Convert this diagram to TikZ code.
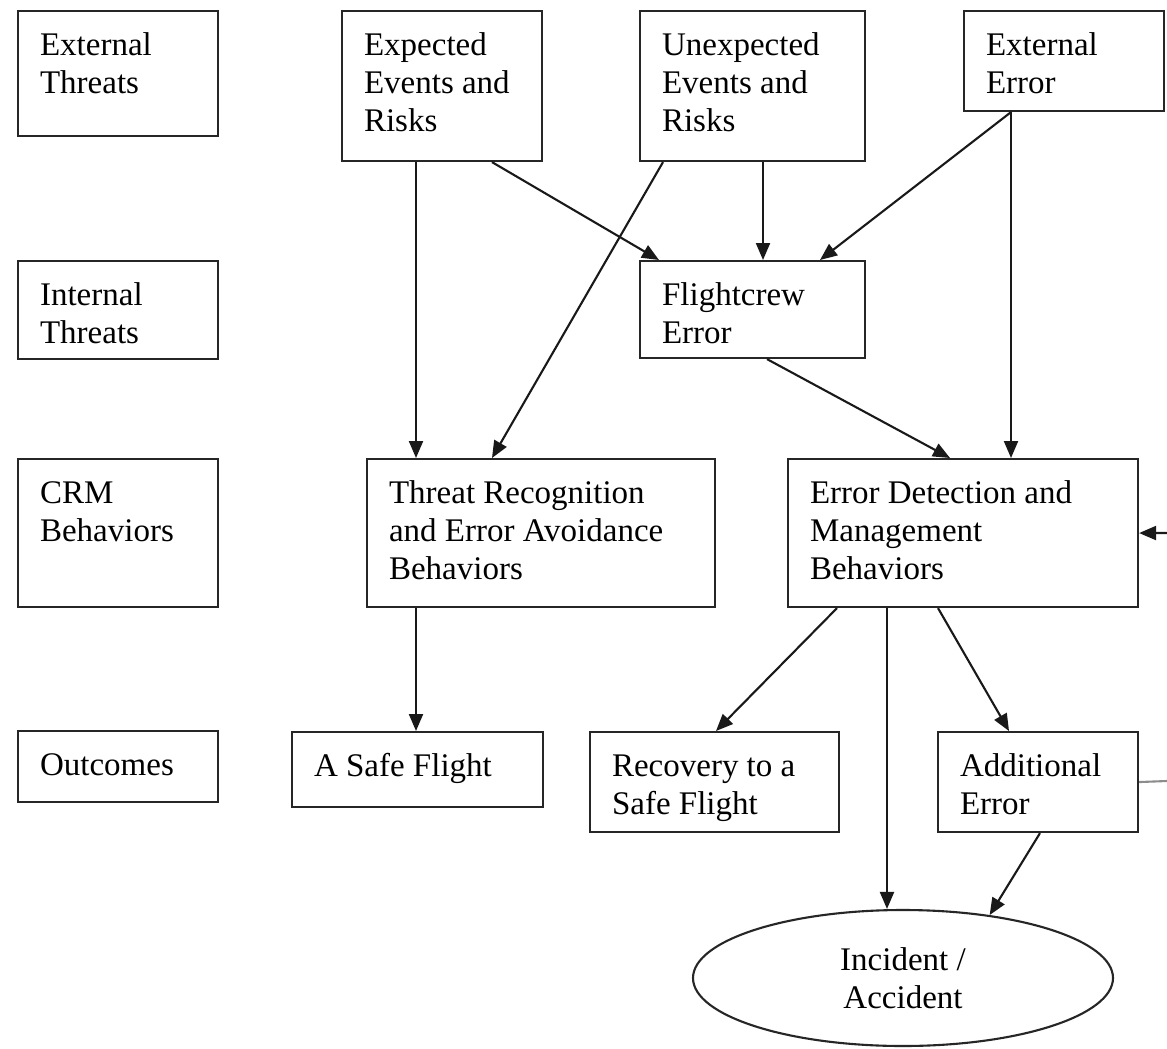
\documentclass[tikz,border=0pt]{standalone}
\usepackage{fontspec}
\setmainfont{Liberation Serif}
\usetikzlibrary{arrows.meta,shapes.geometric}
\newcommand\boxtxt[3]{\parbox[t][#2pt][t]{#1pt}{\vspace*{18pt}\raggedright\leftskip=22pt\relax\strut #3}}
\tikzset{
  boxnode/.style={draw=black!85, line width=2.1pt, anchor=north west, inner sep=0pt, rectangle},
  arr/.style={draw=black!90, line width=2.1pt, -{Triangle[length=17pt,width=14pt]}},
  plainline/.style={draw=black!45, line width=2.1pt}
}
\begin{document}
\begin{tikzpicture}[x=1pt,y=-1pt,font=\fontsize{33}{38}\selectfont]
\useasboundingbox[fill=white] (0,0) rectangle (1167,1049);

% left column labels
\node[boxnode] (et)  at (17,10)  {\boxtxt{200}{125}{External\\Threats}};
\node[boxnode] (it)  at (17,260) {\boxtxt{200}{98}{Internal\\Threats}};
\node[boxnode] (crm) at (17,458) {\boxtxt{200}{148}{CRM\\Behaviors}};
\node[boxnode] (out) at (17,730) {\boxtxt{200}{71}{Outcomes}};

% top row
\node[boxnode] (exp)    at (341,10) {\boxtxt{200}{150}{Expected\\Events and\\Risks}};
\node[boxnode] (unexp)  at (639,10) {\boxtxt{225}{150}{Unexpected\\Events and\\Risks}};
\node[boxnode] (exterr) at (963,10) {\boxtxt{200}{100}{External\\Error}};

% second row
\node[boxnode] (fc) at (639,260) {\boxtxt{225}{97}{Flightcrew\\Error}};

% third row
\node[boxnode] (tr)  at (366,458) {\boxtxt{348}{148}{Threat Recognition\\and Error Avoidance\\Behaviors}};
\node[boxnode] (det) at (787,458) {\boxtxt{350}{148}{Error Detection and\\Management\\Behaviors}};

% outcomes
\node[boxnode] (asf) at (291,731) {\boxtxt{251}{75}{A Safe Flight}};
\node[boxnode] (rec) at (589,731) {\boxtxt{249}{100}{Recovery to a\\Safe Flight}};
\node[boxnode] (add) at (937,731) {\boxtxt{200}{100}{Additional\\Error}};

\node[draw=black!85, line width=2.1pt, ellipse, minimum width=420pt, minimum height=136pt,
      inner sep=0pt, align=center] (inc) at (903,978) {Incident /\\Accident};

% free ends at the right edge
\coordinate (fbOut) at (1167,781);
\coordinate (fbIn)  at (1167,533);

% connectors
\draw[arr] ([xshift=75pt]exp.south west) -- ([xshift=50pt]tr.north west);
\draw[arr] ([xshift=151pt]exp.south west) -- ([xshift=20pt]fc.north west);
\draw[arr] ([xshift=24pt]unexp.south west) -- ([xshift=126pt]tr.north west);
\draw[arr] ([xshift=124pt]unexp.south west) -- ([xshift=124pt]fc.north west);
\draw[arr] ([xshift=48pt]exterr.south west) -- ([xshift=181pt]fc.north west);
\draw[arr] ([xshift=48pt]exterr.south west) -- ([xshift=224pt]det.north west);
\draw[arr] ([xshift=128pt]fc.south west) -- ([xshift=163pt]det.north west);
\draw[arr] ([xshift=50pt]tr.south west) -- ([xshift=125pt]asf.north west);
\draw[arr] ([xshift=50pt]det.south west) -- ([xshift=127pt]rec.north west);
\draw[arr] ([xshift=100pt]det.south west) -- ([xshift=100pt]det.south west |- inc.north);
\draw[arr] ([xshift=151pt]det.south west) -- ([xshift=72pt]add.north west);
\draw[arr] ([xshift=103pt]add.south west) -- (inc.36);
\draw[plainline] (add.east) -- (fbOut);
\draw[arr] (fbIn) -- (det.east);
\end{tikzpicture}
\end{document}
